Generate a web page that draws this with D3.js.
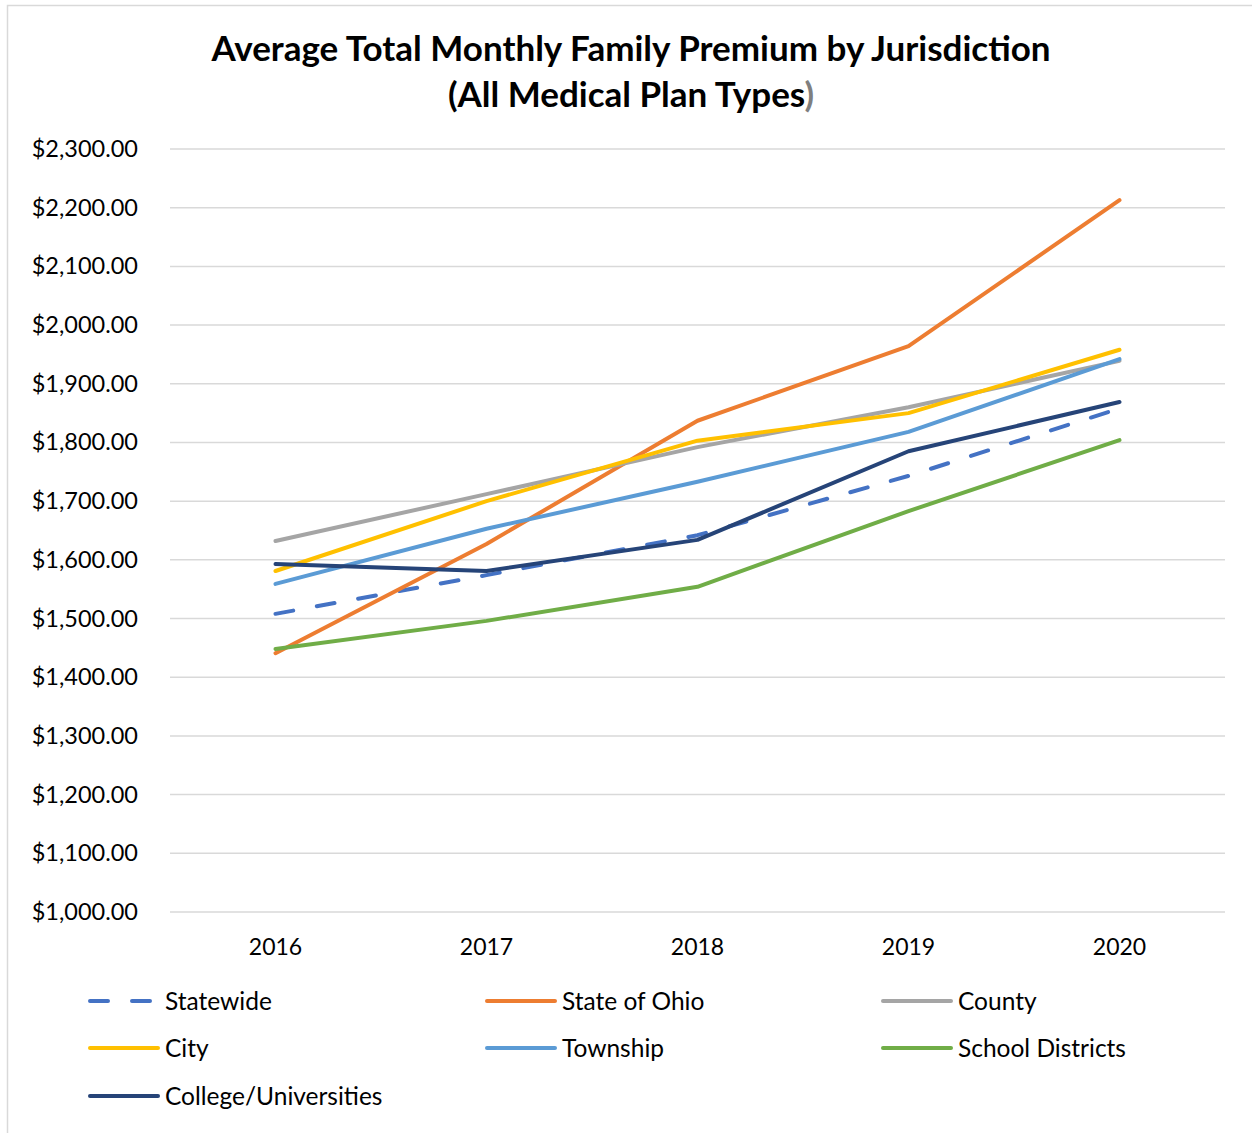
<!DOCTYPE html>
<html lang="en">
<head>
    <meta charset="UTF-8">
    <title>Average Total Monthly Family Premium</title>
    <script src="https://cdn.jsdelivr.net/npm/d3@7"></script>
    <style>
        body { margin: 0; background: #fff; }
        text { font-family: Lato, "Open Sans", sans-serif; }
    </style>
</head>
<body>
</body>
<script>
    const width = 1252;
    const height = 1133;

    // data
    const years = ["2016", "2017", "2018", "2019", "2020"];
    const statewide = [1508, 1574, 1642, 1743, 1858];
    const stateOfOhio = [1441, 1627, 1837, 1964, 2213];
    const county = [1632, 1712, 1792, 1860, 1939];
    const city = [1581, 1700, 1803, 1850, 1958];
    const township = [1559, 1653, 1733, 1818, 1942];
    const schoolDistricts = [1448, 1496, 1554, 1683, 1804];
    const colleges = [1593, 1581, 1634, 1785, 1869];
    const yTicks = [1000, 1100, 1200, 1300, 1400, 1500, 1600, 1700, 1800, 1900, 2000, 2100, 2200, 2300];

    const series = [
        { name: "Statewide", values: statewide, color: "#4472C4", dash: true },
        { name: "State of Ohio", values: stateOfOhio, color: "#ED7D31" },
        { name: "County", values: county, color: "#A5A5A5" },
        { name: "City", values: city, color: "#FFC000" },
        { name: "Township", values: township, color: "#5B9BD5" },
        { name: "School Districts", values: schoolDistricts, color: "#70AD47" },
        { name: "College/Universities", values: colleges, color: "#264478" }
    ];

    const svg = d3.select("body")
        .append("svg")
        .attr("width", width)
        .attr("height", height);

    // chart border
    svg.append("rect")
        .attr("x", 7.5)
        .attr("y", 5.5)
        .attr("width", 1260)
        .attr("height", 1140)
        .attr("fill", "none")
        .attr("stroke", "#d9d9d9")
        .attr("stroke-width", 1.5);

    // title
    const title = svg.append("text")
        .attr("x", 631)
        .attr("text-anchor", "middle")
        .style("font-size", "35px")
        .style("font-weight", "bold")
        .attr("fill", "#000");
    title.append("tspan").attr("x", 631).attr("y", 61).text("Average Total Monthly Family Premium by Jurisdiction");
    const t2 = title.append("tspan").attr("x", 631).attr("y", 107);
    t2.append("tspan").text("(All Medical Plan Types");
    t2.append("tspan").attr("fill", "#7f7f7f").text(")");

    const x = d3.scalePoint()
        .domain(years)
        .range([170, 1225])
        .padding(0.5);

    const y = d3.scaleLinear()
        .domain([1000, 2300])
        .range([912, 149]);

    // gridlines
    svg.append("g")
        .selectAll("line")
        .data(yTicks)
        .enter()
        .append("line")
        .attr("x1", 170)
        .attr("x2", 1225)
        .attr("y1", d => y(d))
        .attr("y2", d => y(d))
        .attr("stroke", "#d9d9d9")
        .attr("stroke-width", 1.5);

    const fmt = d3.format("$,.2f");

    svg.append("g")
        .selectAll("text")
        .data(yTicks)
        .enter()
        .append("text")
        .attr("x", 138)
        .attr("y", d => y(d) + 8)
        .attr("text-anchor", "end")
        .style("font-size", "23.5px")
        .attr("fill", "#000")
        .text(d => fmt(d));

    svg.append("g")
        .selectAll("text")
        .data(years)
        .enter()
        .append("text")
        .attr("x", d => x(d))
        .attr("y", 955)
        .attr("text-anchor", "middle")
        .style("font-size", "23px")
        .attr("fill", "#000")
        .text(d => d);

    const line = d3.line()
        .x((d, i) => x(years[i]))
        .y(d => y(d));

    svg.append("g")
        .selectAll("path")
        .data(series)
        .enter()
        .append("path")
        .attr("d", d => line(d.values))
        .attr("fill", "none")
        .attr("stroke", d => d.color)
        .attr("stroke-width", 4)
        .attr("stroke-linecap", "round")
        .attr("stroke-linejoin", "round")
        .attr("stroke-dasharray", d => d.dash ? "18,24" : null);

    // legend
    const legendCols = [88, 485, 881];
    const legendRows = [1001, 1048, 1096];

    const legend = svg.append("g")
        .selectAll("g")
        .data(series)
        .enter()
        .append("g")
        .attr("transform", (d, i) => `translate(${legendCols[i % 3]}, ${legendRows[Math.floor(i / 3)]})`);

    legend.append("line")
        .attr("x1", 2)
        .attr("x2", 70)
        .attr("y1", 0)
        .attr("y2", 0)
        .attr("stroke", d => d.color)
        .attr("stroke-width", 4)
        .attr("stroke-linecap", "round")
        .attr("stroke-dasharray", d => d.dash ? "18,24" : null);

    legend.append("text")
        .attr("x", 77)
        .attr("y", 9)
        .style("font-size", "24.5px")
        .attr("fill", "#000")
        .text(d => d.name);
</script>
</html>
